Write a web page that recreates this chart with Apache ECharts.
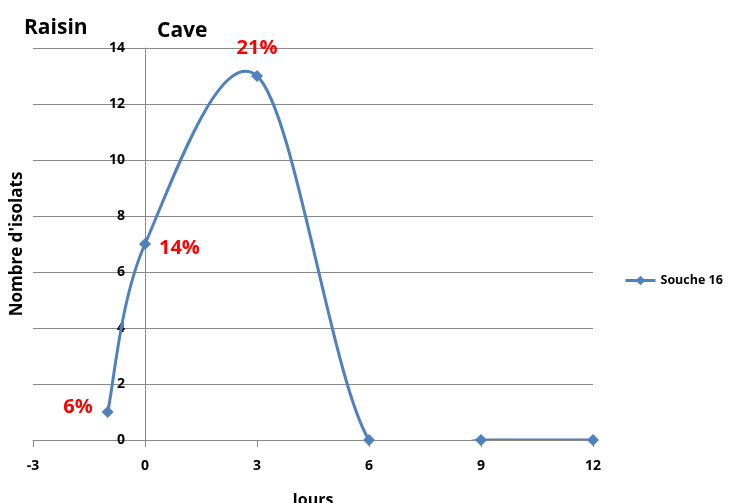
<!DOCTYPE html>
<html>
<head>
<meta charset="utf-8">
<script src="https://cdn.jsdelivr.net/npm/echarts@6/dist/echarts.min.js"></script>
<style>
  html, body { margin: 0; padding: 0; background: #fff; }
  #chart { width: 748px; height: 503px; }
</style>
</head>
<body>
<div id="chart"></div>
<script>
// Days (relative to cellar entry) and number of isolates of strain 16
const jours = [-1, 0, 3, 6, 9, 12];
const isolats = [1, 7, 13, 0, 0, 0];
// Share of the population at each sampling (empty = no label)
const pourcentages = ['6%', '14%', '21%', '', '', ''];
const seriesName = 'Souche 16';

const font = '"Open Sans", "DejaVu Sans", sans-serif';
const blue = '#4f81bd';
const gridGray = '#898989';

// Label placement per point
const labelStyles = [
  { position: 'left', distance: 8, offset: [-1, -5] },
  { position: 'right', distance: 8, offset: [0, 4] },
  { position: 'top', distance: 12, offset: [0, 0] },
  { position: 'top', distance: 12, offset: [0, 0] },
  { position: 'top', distance: 12, offset: [0, 0] },
  { position: 'top', distance: 12, offset: [0, 0] }
];

const chart = echarts.init(document.getElementById('chart'));

const pairs = jours.map((x, i) => [x, isolats[i]]);

const points = pairs.map((p, i) => ({
  value: p,
  label: Object.assign({ show: pourcentages[i] !== '', formatter: pourcentages[i] }, labelStyles[i])
}));

// Smoothed curve: one cubic Bezier per interval, tangents from the
// neighbouring points (Catmull-Rom style, 1/6 of the chord).
function renderSegment(params, api) {
  const i = params.dataIndex;
  if (i >= pairs.length - 1) return null;
  const P = (k) => api.coord(pairs[Math.max(0, Math.min(pairs.length - 1, k))]);
  const p0 = P(i - 1), p1 = P(i), p2 = P(i + 1), p3 = P(i + 2);
  const cs = params.coordSys;
  return {
    type: 'bezierCurve',
    shape: {
      x1: p1[0], y1: p1[1],
      x2: p2[0], y2: p2[1],
      cpx1: p1[0] + (p2[0] - p0[0]) / 6,
      cpy1: p1[1] + (p2[1] - p0[1]) / 6,
      cpx2: p2[0] - (p3[0] - p1[0]) / 6,
      cpy2: p2[1] - (p3[1] - p1[1]) / 6
    },
    style: { stroke: blue, lineWidth: 3, fill: null },
    clipPath: {
      type: 'rect',
      shape: { x: cs.x, y: cs.y - 20, width: cs.width, height: cs.height + 20 }
    }
  };
}

chart.setOption({
  animation: false,
  textStyle: { fontFamily: font },
  grid: { left: 33, right: 155, top: 48, bottom: 63, containLabel: false, outerBoundsMode: 'none' },
  title: [
    { text: 'Raisin', left: 19, top: 13,
      textStyle: { fontFamily: font, fontSize: 21, fontWeight: 'bold', color: '#000' } },
    { text: 'Cave', left: 152, top: 16,
      textStyle: { fontFamily: font, fontSize: 21, fontWeight: 'bold', color: '#000' } }
  ],
  legend: {
    data: [seriesName],
    orient: 'vertical',
    left: 619,
    top: 269,
    itemWidth: 30,
    itemHeight: 12,
    lineStyle: { color: blue, width: 3, opacity: 1 },
    textStyle: { fontFamily: font, fontSize: 12.5, fontWeight: 'bold', color: '#000' }
  },
  xAxis: {
    type: 'value',
    min: -3,
    max: 12,
    interval: 3,
    name: 'Jours',
    nameLocation: 'middle',
    nameGap: 52,
    nameTextStyle: { fontFamily: font, fontSize: 16, fontWeight: 'bold', color: '#000' },
    axisLine: { show: true, onZero: true, lineStyle: { color: gridGray, width: 1 } },
    axisTick: { show: true, length: 7, inside: false, lineStyle: { color: gridGray } },
    axisLabel: { fontFamily: font, fontSize: 14, fontWeight: 'bold', color: '#000', margin: 19 },
    splitLine: { show: false }
  },
  yAxis: {
    type: 'value',
    min: 0,
    max: 14,
    interval: 2,
    // the vertical axis crosses the horizontal one at day 0
    offset: -112,
    name: "Nombre d'isolats",
    nameLocation: 'middle',
    nameRotate: 90,
    nameGap: 119,
    nameTextStyle: { fontFamily: font, fontSize: 17, fontWeight: 'bold', color: '#000' },
    axisLine: { show: true, onZero: false, lineStyle: { color: gridGray, width: 1 } },
    axisTick: { show: false },
    axisLabel: { fontFamily: font, fontSize: 14, fontWeight: 'bold', color: '#000', margin: 20 },
    splitLine: { show: true, lineStyle: { color: gridGray, width: 1 } }
  },
  series: [
    {
      name: 'courbe',
      type: 'custom',
      renderItem: renderSegment,
      clip: true,
      z: 2,
      data: pairs
    },
    {
      name: seriesName,
      type: 'line',
      z: 3,
      symbol: 'diamond',
      symbolSize: 12,
      lineStyle: { color: blue, width: 3, opacity: 0 },
      itemStyle: { color: blue },
      label: {
        fontFamily: font,
        fontSize: 20,
        fontWeight: 'bold',
        color: '#ff0000'
      },
      data: points
    }
  ]
});
</script>
</body>
</html>
